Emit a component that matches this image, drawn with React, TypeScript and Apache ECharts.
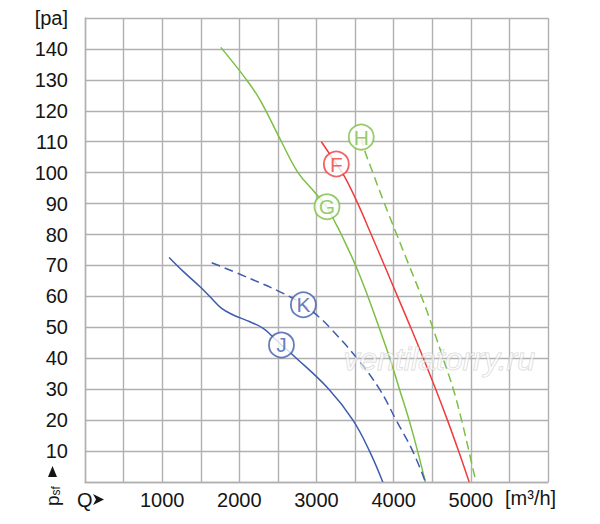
import { useEffect, useRef } from "react";
import * as echarts from "echarts";

// Q, m³/h vs psf, Pa
const curveF = [
  [3063, 110], [3257, 102.8], [3364, 98.7], [3536, 90], [3709, 80], [3881, 70], [4050, 60],
  [4220, 50], [4385, 40], [4545, 30], [4697, 20], [4841, 10], [4979, 0],
];
const curveG = [
  [1760, 140.5], [2094, 130], [2266, 123.6], [2546, 110], [2761, 100], [2965, 94], [3130, 89],
  [3265, 82.8], [3322, 80], [3507, 70], [3666, 60], [3810, 50], [3950, 40], [4075, 30],
  [4200, 20], [4310, 10], [4411, 0],
];
const curveH = [
  [3580, 111.5], [3623, 107.3], [3730, 100], [3881, 90], [4040, 80], [4200, 70], [4360, 60],
  [4505, 50], [4640, 40], [4773, 30], [4880, 20], [4975, 10], [5066, 0],
];
const curveJ = [
  [1090, 72.6], [1276, 68], [1491, 63.1], [1620, 59.9], [1771, 56.1], [1921, 54], [2137, 51.8],
  [2309, 49.7], [2420, 47.3], [2546, 44.3], [2697, 41], [3160, 30], [3472, 20], [3687, 10], [3859, 0],
];
const curveK = [
  [1642, 70.9], [2137, 65.8], [2567, 61], [2830, 57.3], [3020, 53.6], [3170, 50], [3525, 40],
  [3817, 30], [4032, 20], [4247, 10], [4411, 0],
];

const markerLetters = ["F", "G", "H", "J", "K"];
const markerPoints = [[3257, 102.8], [3136, 89], [3580, 111.5], [2546, 44.3], [2830, 57.3]];

const xLabels = [1000, 2000, 3000, 4000, 5000];
const yTop = 150;

const GREEN = "#7cbf45";
const RED = "#ef3b3b";
const BLUE = "#3e5cae";
const GRID = "#b0b0b0";
const TEXT = "#151515";
const FONT = '"Liberation Sans", Arial, sans-serif';
const markerColors = [RED, GREEN, GREEN, BLUE, BLUE];

export default function App() {
  const ref = useRef<HTMLDivElement>(null);

  useEffect(() => {
    document.body.style.margin = "0";
    const el = ref.current;
    if (!el) return;
    const chart = echarts.init(el, null, { renderer: "svg" });

    const line = (name: string, data: number[][], color: string, dashed: boolean) => ({
      name,
      type: "line",
      data,
      smooth: 0.4,
      showSymbol: false,
      lineStyle: { color, width: 1.5, type: dashed ? [9, 5] : "solid" },
      z: 2,
    });

    chart.setOption({
      animation: false,
      textStyle: { fontFamily: FONT },
      grid: { left: 85, top: 18, right: 52, bottom: 42 },
      xAxis: {
        type: "value",
        min: 0,
        max: 6000,
        interval: 500,
        axisLine: { show: true, lineStyle: { color: GRID, width: 1.4 } },
        axisTick: { show: false },
        splitLine: { show: true, lineStyle: { color: GRID, width: 1.4 } },
        axisLabel: {
          color: TEXT,
          fontSize: 20,
          margin: 8,
          formatter: (v: number) => (xLabels.includes(v) ? String(v) : ""),
        },
      },
      yAxis: {
        type: "value",
        min: 0,
        max: yTop,
        interval: 10,
        axisLine: { show: true, lineStyle: { color: GRID, width: 1.4 } },
        axisTick: { show: false },
        splitLine: { show: true, lineStyle: { color: GRID, width: 1.4 } },
        axisLabel: {
          color: TEXT,
          fontSize: 20,
          margin: 17,
          padding: [10, 0, 0, 0],
          formatter: (v: number) => (v === yTop ? "[pa]" : v === 0 ? "" : String(v)),
        },
      },
      graphic: [
        { type: "text", left: 77, top: 490, style: { text: "Q", fontSize: 20, fill: TEXT, fontFamily: FONT } },
        { type: "polygon", shape: { points: [[93, 494], [104, 499.5], [93, 505], [96, 499.5]] }, style: { fill: TEXT } },
        { type: "polygon", shape: { points: [[48, 477], [52.5, 466], [57, 477]] }, style: { fill: TEXT } },
        {
          type: "text",
          x: 52,
          y: 506,
          rotation: Math.PI / 2,
          style: {
            text: "{p|p}{s|sf}",
            fill: TEXT,
            fontFamily: FONT,
            verticalAlign: "middle",
            rich: {
              p: { fontSize: 19, fill: TEXT, fontFamily: FONT },
              s: { fontSize: 12, fill: TEXT, fontFamily: FONT, padding: [8, 0, 0, 0] },
            },
          },
        },
        { type: "text", left: 505, top: 488, style: { text: "[m³/h]", fontSize: 20, fill: TEXT, fontFamily: FONT } },
        {
          type: "text",
          left: 343,
          top: 342,
          z: 10,
          style: {
            text: "ventilatorry.ru",
            fontSize: 32,
            fontStyle: "italic",
            fontFamily: FONT,
            fill: "rgba(255,255,255,0.55)",
            stroke: "rgba(170,170,170,0.5)",
            lineWidth: 1,
          },
        },
      ],
      series: [
        line("G", curveG, GREEN, false),
        line("H", curveH, GREEN, true),
        line("F", curveF, RED, false),
        line("J", curveJ, BLUE, false),
        line("K", curveK, BLUE, true),
        {
          name: "labels",
          type: "scatter",
          z: 5,
          symbolSize: 25,
          data: markerPoints.map((p, i) => ({
            value: p,
            name: markerLetters[i],
            itemStyle: { color: "#ffffff", borderColor: markerColors[i], borderWidth: 1.8 },
            label: { color: markerColors[i] },
          })),
          label: {
            show: true,
            position: "inside",
            fontSize: 21,
            fontFamily: FONT,
            formatter: (p: { name: string }) => p.name,
          },
        },
      ],
    });

    return () => chart.dispose();
  }, []);

  return <div ref={ref} style={{ width: 600, height: 524 }} />;
}
